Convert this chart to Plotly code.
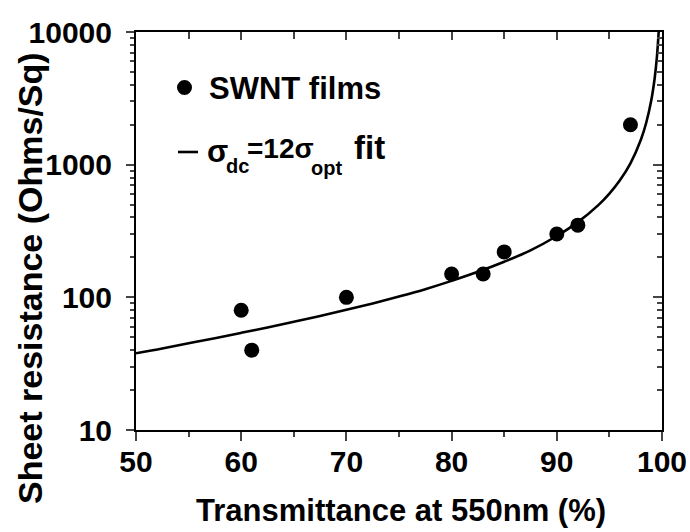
import plotly.graph_objects as go

trans_pts = [60, 61, 70, 80, 83, 85, 90, 92, 97]
rs_pts = [80, 40, 100, 150, 150, 220, 300, 350, 2000]

# Fit curve (sigma_dc = 12 sigma_opt)
trans_fit = [50, 52.5, 55, 57.5, 60, 62.5, 65, 67.5, 70, 72.5, 75, 77.5, 80, 82.5, 85,
             87.5, 90, 92, 94, 95, 96, 97, 98, 98.5, 99, 99.3, 99.5, 99.7]
rs_fit = [37.9, 41.2, 45.1, 49.2, 54.0, 59.3, 65.4, 72.4, 80.5, 90.0, 101.5, 115.3, 133.1,
          155.7, 185.5, 226, 290, 369, 500, 605, 762, 1023, 1548, 2071, 3118, 4464, 6261, 10451]

x_ticks = [50, 60, 70, 80, 90, 100]
x_minor = [55, 65, 75, 85, 95]
y_ticks = [10, 100, 1000, 10000]
y_ticktext = ["10", "100", "1000", "10000"]
y_minor = [m * d for d in (10, 100, 1000) for m in range(2, 10)]

legend_pts = "SWNT films"
# fit legend pieces: (text, font size, glyph-left pixel, centre pixel)
legend_fit = [("σ", 31, 208, 151), ("dc", 20, 227, 166), ("=12σ", 28, 248, 148),
              ("opt", 20, 312, 168), ("fit", 33, 355, 147)]

x_title = "Transmittance at 550nm (%)"
y_title = "Sheet resistance (Ohms/Sq)"

FONT = "Liberation Sans, Arial, sans-serif"
L, R, T, B = 136, 28, 32, 102
W, H = 690, 532
PW, PH = W - L - R, H - T - B


def px(x):
    return (x - L) / PW


def py(y):
    return (H - B - y) / PH


fig = go.Figure()
fig.add_trace(go.Scatter(x=trans_fit, y=rs_fit, mode="lines", line=dict(color="black", width=2.6, shape="spline"),
                         hoverinfo="skip", showlegend=False))
fig.add_trace(go.Scatter(x=trans_pts, y=rs_pts, mode="markers", marker=dict(color="black", size=15),
                         showlegend=False))
# invisible trace to anchor mirrored (inside-tick) axes
fig.add_trace(go.Scatter(x=trans_pts, y=rs_pts, xaxis="x2", yaxis="y2", mode="markers",
                         marker=dict(opacity=0), hoverinfo="skip", showlegend=False))

tickfont = dict(family=FONT, size=30, color="black", weight="bold")
fig.update_layout(
    width=W, height=H, margin=dict(l=L, r=R, t=T, b=B), autosize=False,
    paper_bgcolor="white", plot_bgcolor="white",
    xaxis=dict(range=[50, 100], tickvals=x_ticks, ticks="outside", ticklen=9, tickwidth=2,
               linecolor="black", linewidth=2, showline=True, showgrid=False, zeroline=False,
               tickfont=tickfont, ticklabelstandoff=-5, automargin=False,
               minor=dict(tickvals=x_minor, ticks="outside", ticklen=5, tickwidth=2, showgrid=False)),
    yaxis=dict(type="log", range=[1, 4], tickvals=y_ticks, ticktext=y_ticktext, ticks="outside", ticklen=8,
               tickwidth=2, linecolor="black", linewidth=2, showline=True, showgrid=False, zeroline=False,
               tickfont=tickfont, ticklabelstandoff=8, automargin=False,
               minor=dict(tickvals=y_minor, ticks="outside", ticklen=4, tickwidth=1.5, showgrid=False)),
    xaxis2=dict(overlaying="x", side="top", range=[50, 100], tickvals=x_ticks, ticks="inside", ticklen=8,
                tickwidth=2, linecolor="black", linewidth=2, showline=True, showgrid=False, zeroline=False,
                showticklabels=False, automargin=False,
                minor=dict(tickvals=x_minor, ticks="inside", ticklen=7, tickwidth=2, showgrid=False)),
    yaxis2=dict(overlaying="y", side="right", type="log", range=[1, 4], tickvals=y_ticks, ticks="inside",
                ticklen=9, tickwidth=2, linecolor="black", linewidth=2, showline=True, showgrid=False,
                zeroline=False, showticklabels=False, automargin=False,
                minor=dict(tickvals=y_minor, ticks="inside", ticklen=5, tickwidth=1.5, showgrid=False)),
    showlegend=False,
)

# axis titles
fig.add_annotation(xref="paper", yref="paper", x=px(401), y=py(510), xanchor="center", yanchor="middle",
                   text=x_title, showarrow=False,
                   font=dict(family=FONT, size=31, color="black", weight="bold"))
fig.add_annotation(xref="paper", yref="paper", x=px(30), y=py(278), xanchor="center", yanchor="middle",
                   text=y_title, textangle=-90, showarrow=False,
                   font=dict(family=FONT, size=34, color="black", weight="bold"))

# legend drawn by hand
fig.add_shape(type="circle", xref="paper", yref="paper", xsizemode="pixel", ysizemode="pixel",
              xanchor=px(184.5), yanchor=py(87.5), x0=-7.5, x1=7.5, y0=-7.5, y1=7.5,
              fillcolor="black", line=dict(color="black", width=0))
fig.add_shape(type="line", xref="paper", yref="paper", x0=px(178), x1=px(198), y0=py(152), y1=py(152),
              line=dict(color="black", width=2.6))
fig.add_annotation(xref="paper", yref="paper", x=px(207), y=py(88), xanchor="left", yanchor="middle",
                   text=legend_pts, showarrow=False,
                   font=dict(family=FONT, size=31, color="black", weight="bold"))
for txt, size, lx, cy in legend_fit:
    fig.add_annotation(xref="paper", yref="paper", x=px(lx - 3), y=py(cy), xanchor="left", yanchor="middle",
                       text=txt, showarrow=False,
                       font=dict(family=FONT, size=size, color="black", weight="bold"))

fig.write_html("out.html")
